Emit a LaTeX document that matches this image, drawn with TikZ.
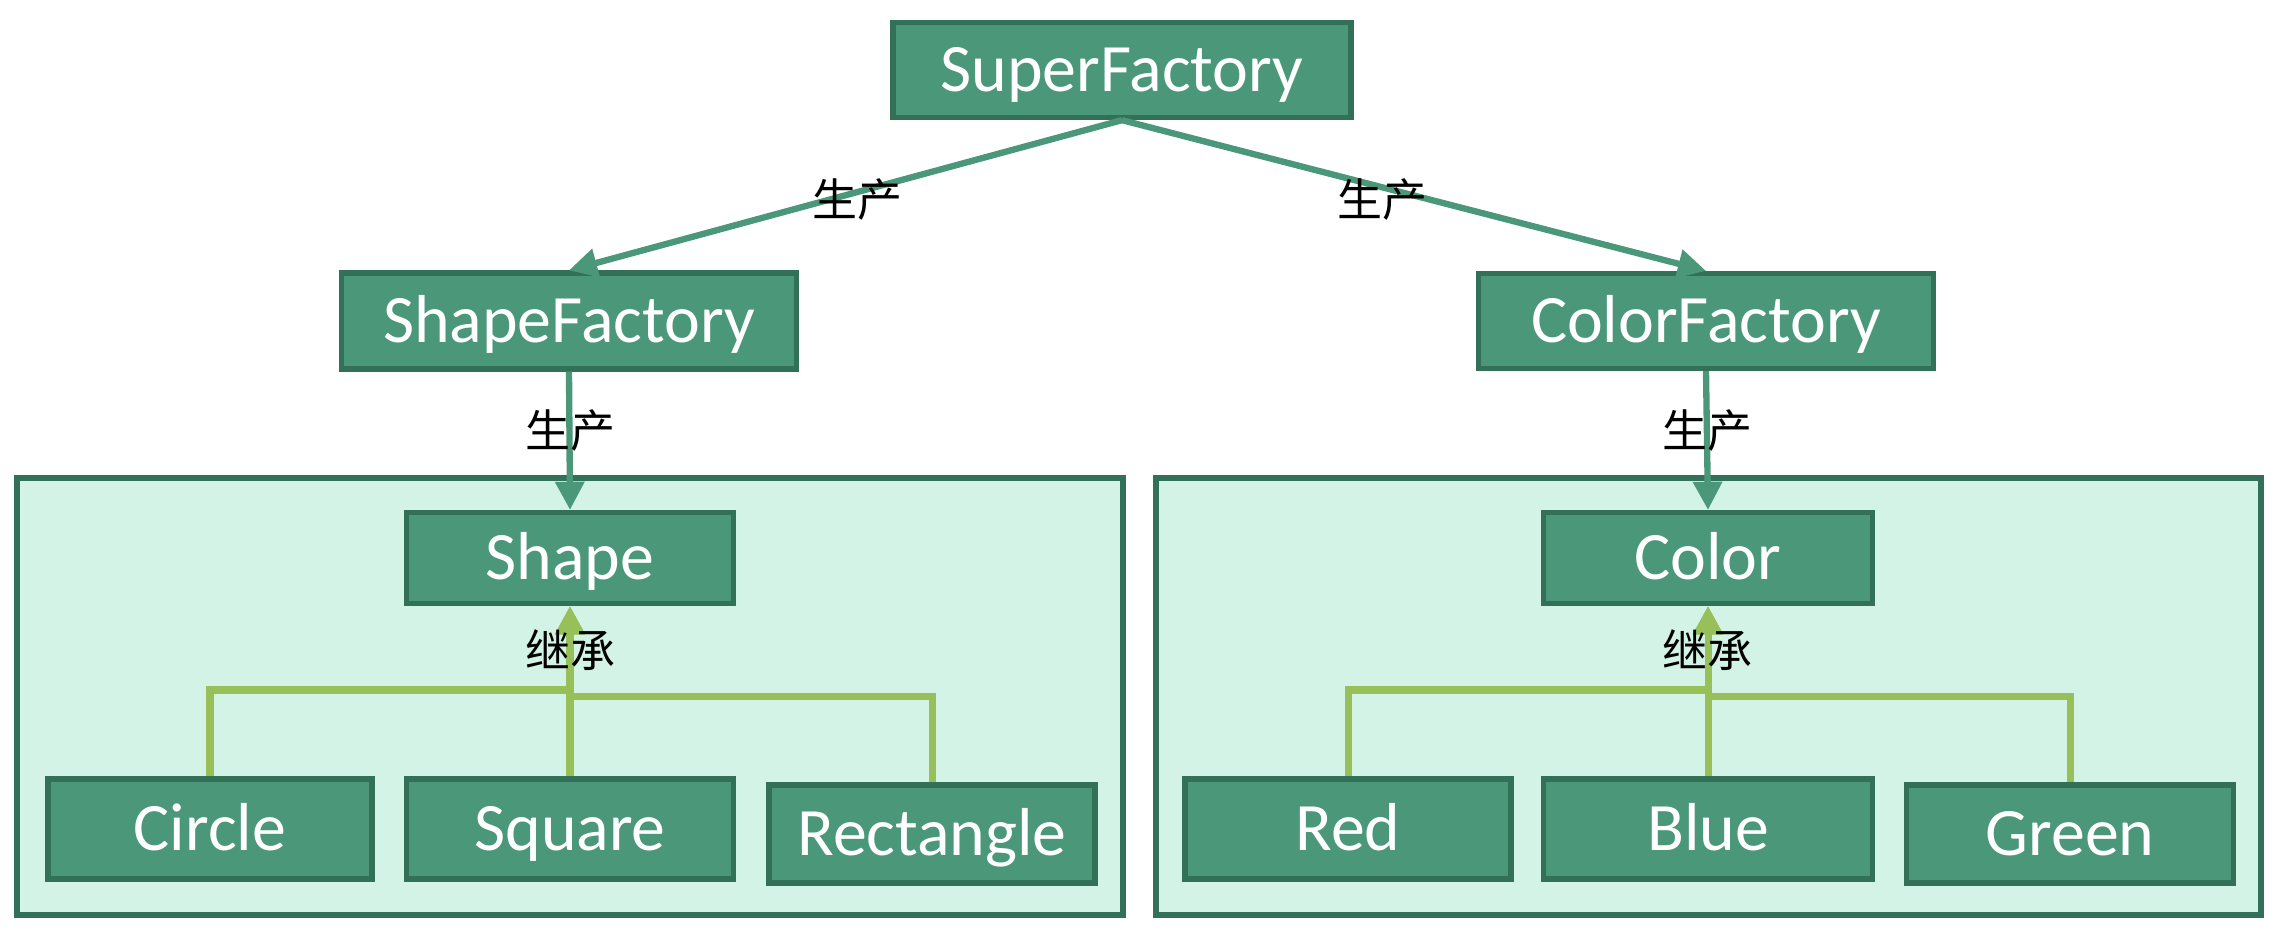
\documentclass[tikz,border=0pt]{standalone}
\usepackage{fontspec}
\setmainfont{Carlito}
\newfontfamily\cjk{Noto Sans CJK SC}
\usetikzlibrary{arrows.meta}

\definecolor{boxfill}{RGB}{74,151,122}
\definecolor{boxline}{RGB}{50,112,88}
\definecolor{groupfill}{RGB}{210,243,230}
\definecolor{inheritline}{RGB}{152,192,88}

\begin{document}
\begin{tikzpicture}[
    cls/.style={draw=boxline, fill=boxfill, line width=1.5pt, text=white, inner sep=0pt,
        text height=12.4pt, text depth=0pt, font=\fontsize{19.3}{23}\selectfont},
    group/.style={draw=boxline, fill=groupfill, line width=1.5pt},
    produce/.style={draw=boxfill, line width=1.8pt, -{Triangle[length=8pt, width=8pt]}},
    inherit/.style={draw=inheritline, line width=2pt, -{Triangle[length=8pt, width=8pt]}},
    tag/.style={font=\cjk\fontsize{12.8}{14}\selectfont, inner sep=0pt}
]
    \useasboundingbox (0, 0) rectangle (22.78, -9.32);

    % the two groups
    \draw[group] (0.17, -4.78) rectangle (11.23, -9.15);
    \draw[group] (11.56, -4.78) rectangle (22.61, -9.15);

    % factories
    \node[cls, minimum width=4.58cm, minimum height=0.95cm] (super) at (11.22, -0.70) {SuperFactory};
    \node[cls, minimum width=4.55cm, minimum height=0.96cm] (shapef) at (5.69, -3.21) {ShapeFactory};
    \node[cls, minimum width=4.55cm, minimum height=0.95cm] (colorf) at (17.06, -3.21) {ColorFactory};

    % products
    \node[cls, minimum width=3.27cm, minimum height=0.91cm] (shape) at (5.70, -5.58) {Shape};
    \node[cls, minimum width=3.29cm, minimum height=0.91cm] (color) at (17.08, -5.58) {Color};

    \node[cls, minimum width=3.24cm, minimum height=1.00cm] (circle) at (2.10, -8.29) {Circle};
    \node[cls, minimum width=3.27cm, minimum height=1.00cm] (square) at (5.70, -8.29) {Square};
    \node[cls, minimum width=3.26cm, minimum height=0.98cm] (rect) at (9.32, -8.34) {Rectangle};

    \node[cls, minimum width=3.26cm, minimum height=1.00cm] (red) at (13.48, -8.29) {Red};
    \node[cls, minimum width=3.29cm, minimum height=1.00cm] (blue) at (17.08, -8.29) {Blue};
    \node[cls, minimum width=3.27cm, minimum height=0.98cm] (green) at (20.70, -8.34) {Green};

    % produce arrows
    \draw[produce] (super.south) -- (shapef.north);
    \draw[produce] (super.south) -- (colorf.north);
    \draw[produce] (shapef.south) -- (shape.north);
    \draw[produce] (colorf.south) -- (color.north);

    % inheritance
    \coordinate (shapeL) at (5.70, -6.90);
    \coordinate (shapeR) at (5.70, -6.96);
    \coordinate (colorL) at (17.08, -6.90);
    \coordinate (colorR) at (17.08, -6.96);

    \draw[inherit] (circle.north) |- (shapeL) -- (shape.south);
    \draw[inherit] (rect.north) |- (shapeR) -- (shape.south);
    \draw[inherit] (square.north) -- (shape.south);
    \draw[inherit] (red.north) |- (colorL) -- (color.south);
    \draw[inherit] (green.north) |- (colorR) -- (color.south);
    \draw[inherit] (blue.north) -- (color.south);

    % labels
    \node[tag] (p1) at (8.57, -2.00) {生产};
    \node[tag] (p2) at (13.82, -2.00) {生产};
    \node[tag] (p3) at (5.70, -4.31) {生产};
    \node[tag] (p4) at (17.07, -4.31) {生产};
    \node[tag] (i1) at (5.70, -6.50) {继承};
    \node[tag] (i2) at (17.07, -6.50) {继承};
\end{tikzpicture}
\end{document}
